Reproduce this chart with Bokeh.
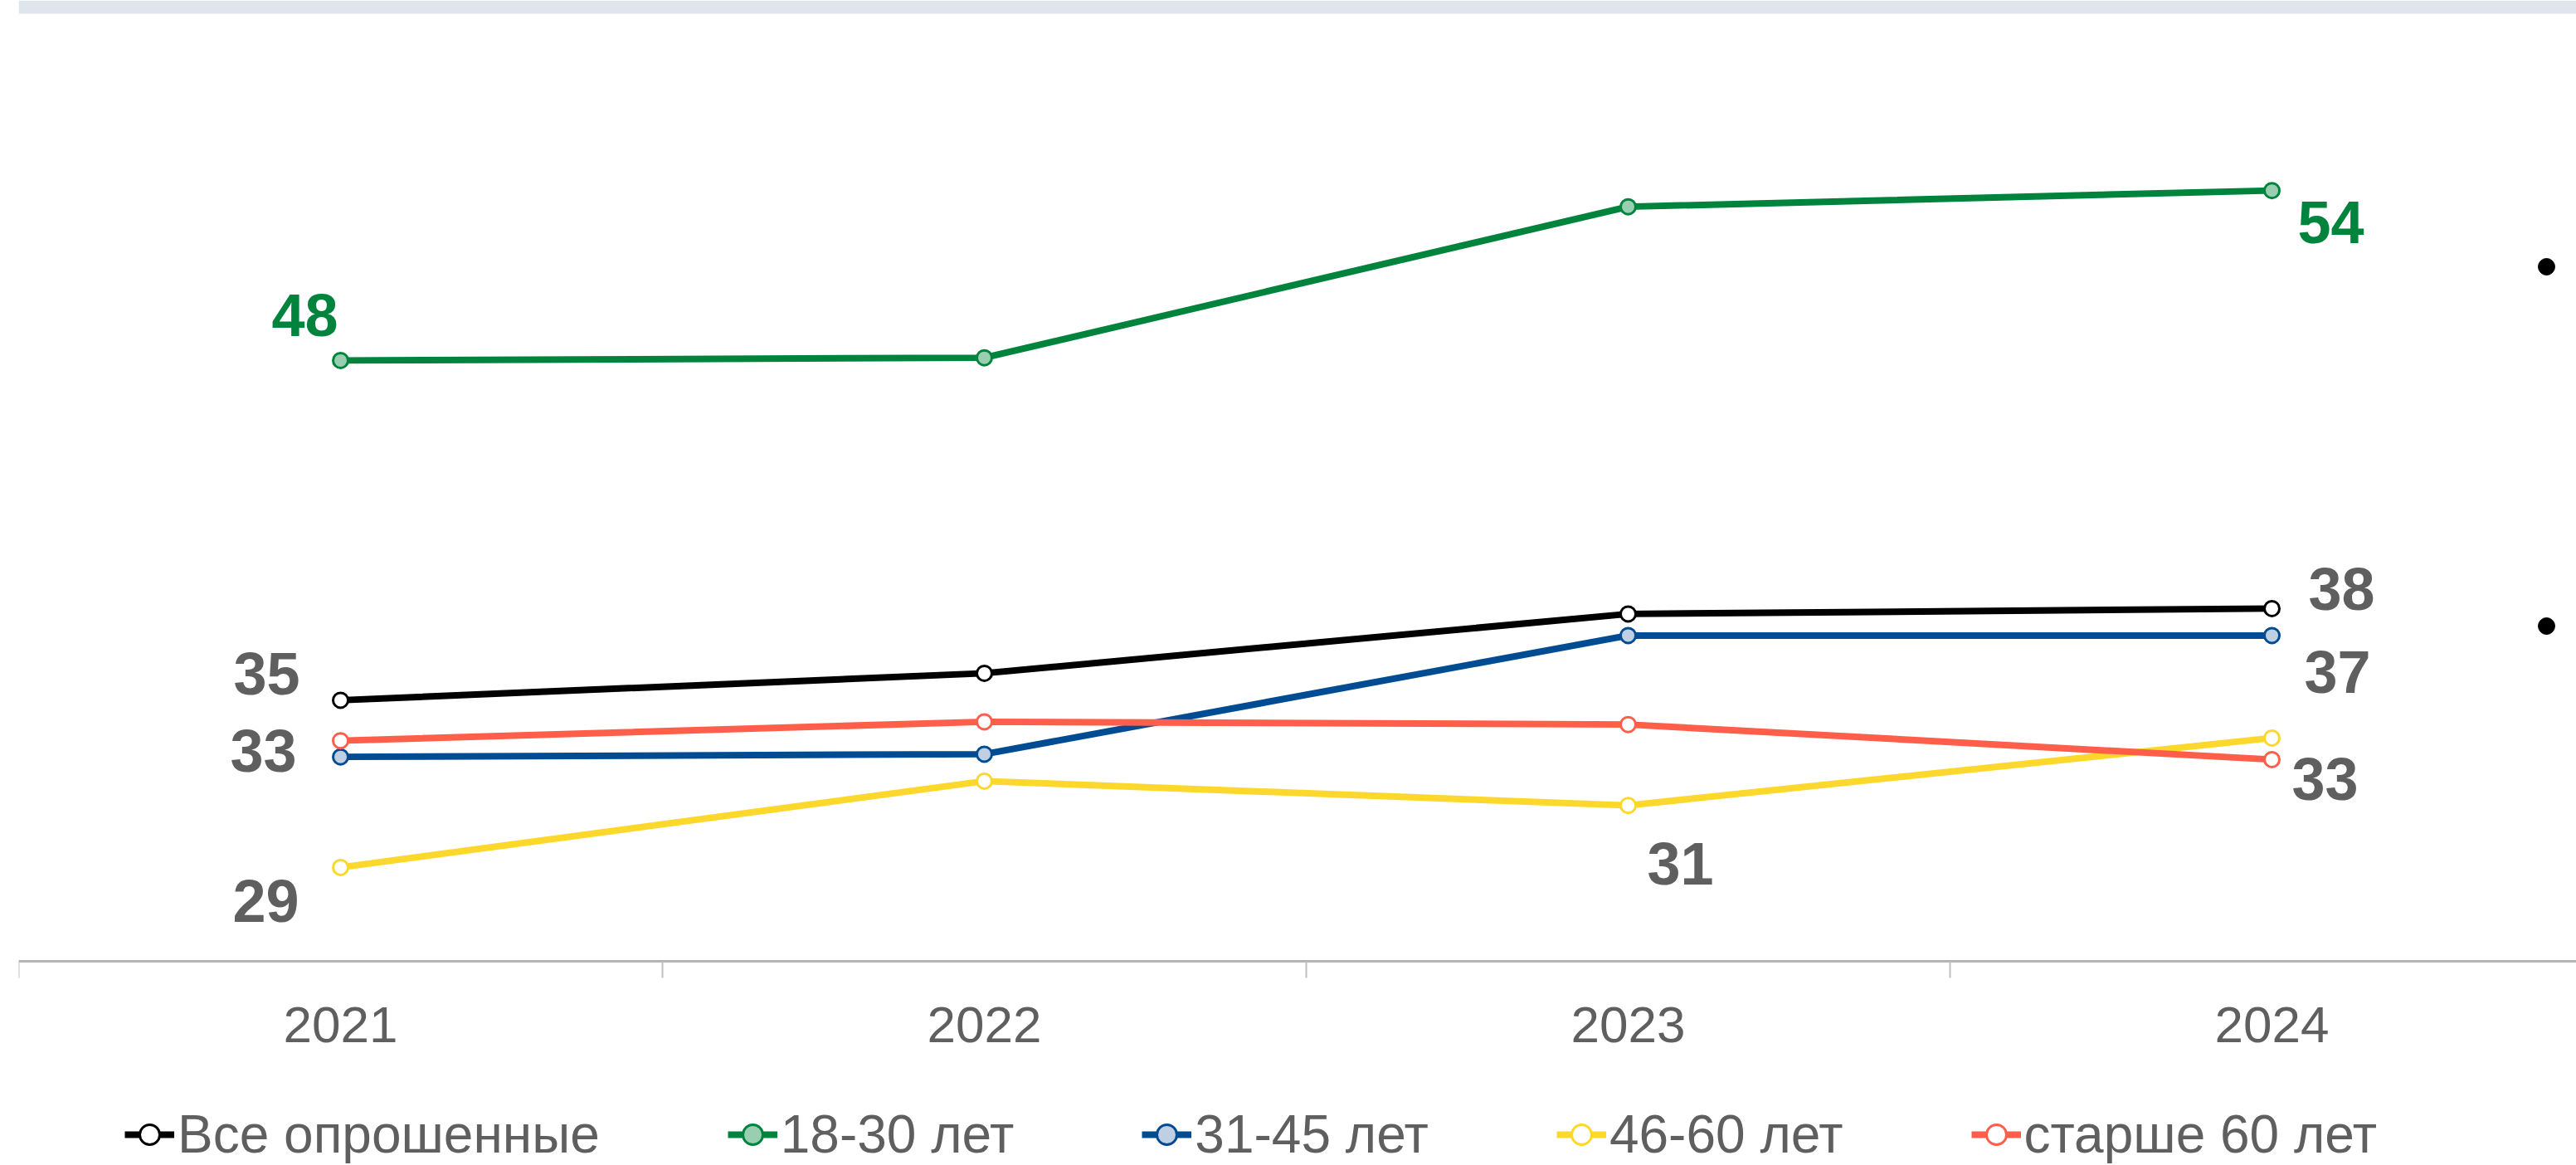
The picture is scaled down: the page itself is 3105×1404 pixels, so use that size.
from bokeh.plotting import figure
from bokeh.models import FixedTicker, Range1d, Legend, LegendItem, BoxAnnotation, ColumnDataSource
from bokeh.core.properties import value
from bokeh.embed import file_html
from bokeh.resources import INLINE

# ---------------- data ----------------
YEARS = ["2021", "2022", "2023", "2024"]
ALL_RESP = [35.0, 36.0, 38.2, 38.4]
AGE_18_30 = [47.6, 47.7, 53.3, 53.9]
AGE_31_45 = [32.9, 33.0, 37.4, 37.4]
AGE_46_60 = [28.8, 32.0, 31.1, 33.6]
AGE_60_PLUS = [33.5, 34.2, 34.1, 32.8]
SERIES_NAMES = ["Все опрошенные", "18-30 лет", "31-45 лет", "46-60 лет", "старше 60 лет"]

LABEL_TEXT = ["48", "54", "35", "38", "33", "37", "29", "31", "33"]
LABEL_SERIES = [1, 1, 0, 0, 2, 2, 3, 3, 4]
LABEL_YEAR = [0, 3, 0, 3, 0, 3, 0, 2, 3]

# ---------------- styles ----------------
SERIES = [ALL_RESP, AGE_18_30, AGE_31_45, AGE_46_60, AGE_60_PLUS]
LINE_COLORS = ["#000000", "#00843d", "#004c93", "#fdd82c", "#ff5f4a"]
FILL_COLORS = ["#ffffff", "#99ceb1", "#c0d0e4", "#ffffff", "#ffffff"]
LABEL_COLORS = ["#5f5f5f", "#00843d"]
LABEL_DX = [-43, 71, -89, 84, -93, 79, -90, 63, 64]
LABEL_DY = [-54, 38, -32, -23, -7, 44, 41, 70, 24]

W, H = 3105, 1404
BORDER_L = 22
AXIS_PX = 1158          # vertical pixel of the category axis
PX_PER_UNIT = 32.5
PX_PER_CAT = 776.0
FRAME_W = W - BORDER_L
Y_END = 60.95
Y_START = Y_END - H / PX_PER_UNIT
AXIS_Y = Y_END - AXIS_PX / PX_PER_UNIT
X_START = -0.5
X_END = X_START + FRAME_W / PX_PER_CAT

FONT = "Liberation Sans"
GRAY = "#5f5f5f"

p = figure(width=W, height=H, output_backend="svg", toolbar_location=None,
           x_range=Range1d(X_START, X_END), y_range=Range1d(Y_START, Y_END),
           min_border_left=BORDER_L, min_border_right=0, min_border_top=0,
           min_border_bottom=0)
p.outline_line_color = None
p.grid.visible = False
p.yaxis.visible = False
p.background_fill_color = "#ffffff"
p.border_fill_color = "#ffffff"

# top band
p.add_layout(BoxAnnotation(bottom=Y_END - 16 / PX_PER_UNIT, fill_color="#dfe5ec",
                           fill_alpha=1.0, line_color=None))

xs = list(range(len(YEARS)))
items = []
for i, vals in enumerate(SERIES):
    src = ColumnDataSource(dict(x=xs, y=vals))
    lr = p.line("x", "y", source=src, line_color=LINE_COLORS[i], line_width=8)
    sr = p.scatter("x", "y", source=src, size=18, marker="circle",
                   fill_color=FILL_COLORS[i], line_color=LINE_COLORS[i], line_width=3)
    items.append(LegendItem(label=SERIES_NAMES[i], renderers=[lr, sr]))

# data labels
lab = ColumnDataSource(dict(
    x=[LABEL_YEAR[k] for k in range(len(LABEL_TEXT))],
    y=[SERIES[LABEL_SERIES[k]][LABEL_YEAR[k]] for k in range(len(LABEL_TEXT))],
    text=LABEL_TEXT,
    color=[LABEL_COLORS[1] if LABEL_SERIES[k] == 1 else LABEL_COLORS[0] for k in range(len(LABEL_TEXT))],
    dx=LABEL_DX, dy=LABEL_DY))
p.text("x", "y", text="text", source=lab, x_offset="dx", y_offset="dy",
       text_color="color", text_font=value(FONT), text_font_style="bold",
       text_font_size="72px", text_align="center", text_baseline="middle")

# bullets of cut-off side text (decoration)
def px_to_x(px):
    return X_START + (px - BORDER_L) / PX_PER_CAT

def py_to_y(py):
    return Y_END - py / PX_PER_UNIT

p.scatter([px_to_x(3069), px_to_x(3069)], [py_to_y(321), py_to_y(754)],
          size=20, marker="circle", color="#000000")

# x axis, fixed inside the frame
ax = p.xaxis[0]
ax.fixed_location = AXIS_Y
ax.ticker = FixedTicker(ticks=xs, minor_ticks=[-0.5, 0.5, 1.5, 2.5, 3.5])
ax.major_label_overrides = {i: y for i, y in enumerate(YEARS)}
ax.major_tick_line_color = None
ax.major_tick_out = 0
ax.major_tick_in = 0
ax.minor_tick_line_color = "#c0c0c0"
ax.minor_tick_line_width = 2
ax.minor_tick_out = 20
ax.minor_tick_in = 0
ax.axis_line_color = "#b4b4b4"
ax.axis_line_width = 3
ax.major_label_text_font = FONT
ax.major_label_text_font_size = "62px"
ax.major_label_text_color = GRAY
ax.major_label_standoff = 35

legend = Legend(items=items, orientation="horizontal", location=(128, 0),
                glyph_width=60, glyph_height=62, label_height=62, label_standoff=4,
                spacing=154, padding=0, margin=0,
                label_text_font=FONT, label_text_font_size="64px",
                label_text_color=GRAY, border_line_color=None,
                background_fill_alpha=0)
p.add_layout(legend, "center")

open("out.html", "w").write(file_html(p, INLINE))
